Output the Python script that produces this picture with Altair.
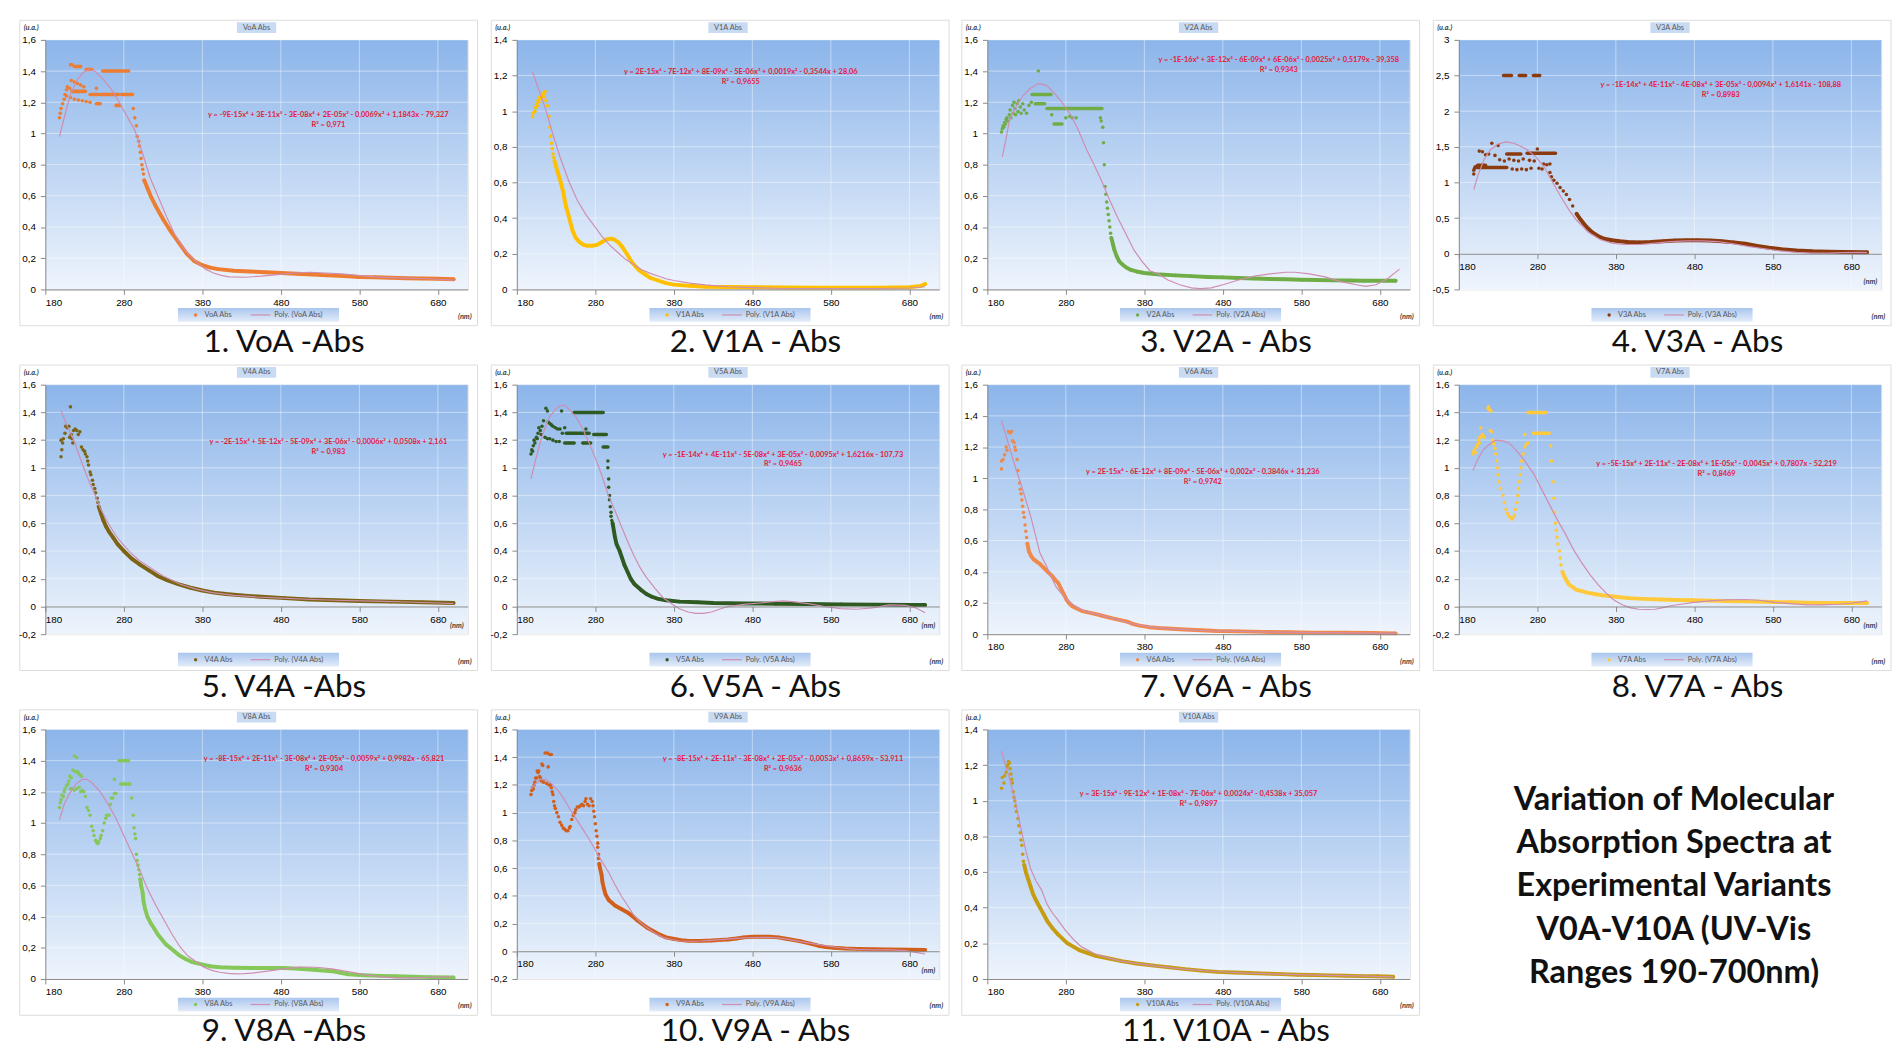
import altair as alt
import pandas as pd

X_TICKS = [180, 280, 380, 480, 580, 680]
X_DOMAIN = [180, 718]
Y_TICKS_16 = [0, 0.2, 0.4, 0.6, 0.8, 1, 1.2, 1.4, 1.6]
Y_TICKS_14 = [0, 0.2, 0.4, 0.6, 0.8, 1, 1.2, 1.4]
Y_TICKS_16N = [-0.2, 0, 0.2, 0.4, 0.6, 0.8, 1, 1.2, 1.4, 1.6]
Y_TICKS_3 = [-0.5, 0, 0.5, 1, 1.5, 2, 2.5, 3]

# ---------------- V0A ----------------
V0A_DOTS = [(198, 1.10), (199, 1.13), (200, 1.16), (202, 1.19), (204, 1.22), (205, 1.25), (207, 1.28), (208, 1.30),
            (211, 1.29), (213, 1.34), (217, 1.33), (221, 1.32), (225, 1.31), (229, 1.30), (245, 1.29),
            (207, 1.24), (212, 1.23), (217, 1.22), (222, 1.215), (227, 1.21), (232, 1.205), (237, 1.20),
            (292, 1.16), (294, 1.10), (296, 1.05), (297, 0.98), (299, 0.95), (300, 0.92), (301, 0.88),
            (302, 0.84), (303, 0.80), (304, 0.77), (305, 0.74)]
V0A_DASH = [(212, 214, 1.44), (217, 225, 1.43), (232, 239, 1.41), (253, 286, 1.40), (214, 231, 1.27),
            (237, 247, 1.25), (250, 273, 1.25), (277, 291, 1.25), (245, 250, 1.19), (270, 275, 1.18)]
V0A_CURVE = [(306, 0.70), (310, 0.65), (315, 0.59), (320, 0.54), (330, 0.45), (340, 0.37), (350, 0.30),
             (360, 0.23), (370, 0.18), (380, 0.155), (390, 0.14), (400, 0.13), (420, 0.12), (440, 0.115),
             (460, 0.11), (480, 0.105), (500, 0.10), (520, 0.095), (540, 0.09), (560, 0.085), (580, 0.08),
             (600, 0.078), (620, 0.075), (640, 0.072), (660, 0.07), (680, 0.068), (700, 0.065)]
V0A_FIT = [(198, 0.98), (205, 1.12), (212, 1.25), (220, 1.34), (228, 1.39), (235, 1.41), (243, 1.40),
           (253, 1.35), (263, 1.29), (273, 1.21), (283, 1.12), (294, 1.02), (304, 0.87), (314, 0.71),
           (325, 0.58), (335, 0.46), (345, 0.35), (355, 0.27), (365, 0.21), (374, 0.17), (384, 0.13),
           (394, 0.105), (404, 0.09), (414, 0.08), (435, 0.078), (455, 0.085), (476, 0.095), (497, 0.105),
           (517, 0.11), (538, 0.105), (558, 0.10), (578, 0.09), (600, 0.08), (620, 0.075), (640, 0.072),
           (660, 0.07), (680, 0.065), (700, 0.06)]

# ---------------- V1A ----------------
V1A_DOTS = [(200, 0.97), (201, 0.99), (203, 1.00), (204, 1.02), (205, 1.04), (206, 1.03), (207, 1.06),
            (208, 1.05), (209, 1.08), (210, 1.07), (212, 1.09), (213, 1.10), (214, 1.08), (215, 1.10),
            (216, 1.11), (217, 1.06), (219, 1.03), (221, 0.97), (222, 0.91), (223, 0.86), (224, 0.82),
            (225, 0.79), (226, 0.76), (227, 0.74)]
V1A_DASH = []
V1A_CURVE = [(228, 0.72), (230, 0.69), (232, 0.66), (234, 0.63), (236, 0.60), (239, 0.55), (241, 0.50),
             (243, 0.46), (245, 0.43), (248, 0.38), (251, 0.33), (255, 0.29), (260, 0.265), (265, 0.25),
             (270, 0.245), (276, 0.245), (282, 0.25), (288, 0.265), (294, 0.28), (300, 0.285), (304, 0.28),
             (309, 0.265), (314, 0.24), (320, 0.20), (327, 0.15), (335, 0.11), (343, 0.085), (350, 0.065),
             (360, 0.05), (370, 0.035), (380, 0.027), (400, 0.02), (420, 0.015), (450, 0.013), (480, 0.012),
             (520, 0.011), (560, 0.01), (600, 0.01), (640, 0.01), (680, 0.012), (695, 0.02), (700, 0.03)]
V1A_FIT = [(200, 1.22), (208, 1.12), (216, 1.02), (226, 0.87), (236, 0.73), (246, 0.61), (257, 0.50),
           (268, 0.42), (278, 0.36), (288, 0.30), (298, 0.25), (308, 0.21), (318, 0.17), (329, 0.14),
           (339, 0.11), (350, 0.09), (360, 0.075), (370, 0.06), (380, 0.05), (400, 0.035), (420, 0.025),
           (450, 0.015), (480, 0.01), (520, 0.005), (560, 0.005), (600, 0.005), (640, 0.005), (680, 0.008),
           (700, 0.015)]

# ---------------- V2A ----------------
V2A_DOTS = [(198, 1.01), (199, 1.03), (200, 1.05), (201, 1.04), (202, 1.07), (203, 1.06), (204, 1.09),
            (205, 1.10), (206, 1.08), (208, 1.12), (209, 1.15), (210, 1.10), (212, 1.18), (213, 1.13),
            (214, 1.20), (215, 1.16), (216, 1.12), (218, 1.19), (219, 1.14), (220, 1.21), (222, 1.17),
            (223, 1.13), (225, 1.19), (227, 1.15), (230, 1.13), (233, 1.18), (236, 1.20), (245, 1.40),
            (262, 1.12), (280, 1.10), (285, 1.11), (288, 1.10), (293, 1.10),
            (324, 1.10), (325, 1.08), (327, 1.04), (328, 0.94), (329, 0.80), (330, 0.66), (331, 0.61),
            (332, 0.56), (333, 0.52), (334, 0.48), (335, 0.44), (336, 0.40), (337, 0.36)]
V2A_DASH = [(237, 261, 1.25), (241, 253, 1.19), (256, 300, 1.16), (302, 326, 1.16), (265, 275, 1.06)]
V2A_CURVE = [(338, 0.33), (340, 0.29), (342, 0.25), (345, 0.21), (348, 0.18), (352, 0.16), (357, 0.14),
             (363, 0.125), (370, 0.115), (380, 0.105), (390, 0.10), (400, 0.095), (420, 0.09), (440, 0.085),
             (460, 0.08), (480, 0.077), (500, 0.073), (520, 0.07), (540, 0.067), (560, 0.065), (580, 0.062),
             (600, 0.06), (620, 0.058), (640, 0.057), (660, 0.056), (680, 0.055), (700, 0.055)]
V2A_FIT = [(199, 0.85), (204, 0.97), (208, 1.08), (216, 1.17), (225, 1.24), (235, 1.29), (245, 1.32),
           (255, 1.31), (265, 1.26), (275, 1.20), (286, 1.12), (296, 1.02), (306, 0.90), (316, 0.80),
           (326, 0.69), (336, 0.57), (347, 0.45), (357, 0.35), (367, 0.25), (377, 0.18), (387, 0.12),
           (397, 0.10), (410, 0.06), (425, 0.03), (440, 0.01), (451, 0.005), (465, 0.01), (480, 0.03),
           (500, 0.06), (520, 0.085), (540, 0.10), (560, 0.11), (572, 0.11), (590, 0.10), (610, 0.08),
           (630, 0.05), (650, 0.03), (662, 0.02), (675, 0.03), (690, 0.07), (705, 0.13)]

# ---------------- V3A ----------------
V3A_DOTS = [(199, 1.12), (199, 1.17), (200, 1.20), (201, 1.22), (206, 1.44), (210, 1.43), (214, 1.39),
            (218, 1.40), (222, 1.55), (226, 1.38), (230, 1.52), (232, 1.32), (238, 1.30), (244, 1.33),
            (250, 1.31), (256, 1.30), (262, 1.33), (270, 1.31), (276, 1.30), (280, 1.47),
            (248, 1.19), (254, 1.18), (260, 1.19), (266, 1.18), (272, 1.20), (282, 1.20), (286, 1.19),
            (288, 1.26), (292, 1.25), (296, 1.26),
            (296, 1.14), (298, 1.08), (301, 1.03), (305, 0.99), (309, 0.93), (313, 0.88), (317, 0.83),
            (321, 0.76), (325, 0.67)]
V3A_DASH = [(203, 241, 1.21), (204, 214, 1.24), (237, 247, 2.5), (257, 265, 2.5), (275, 283, 2.5),
            (241, 259, 1.40), (267, 303, 1.41)]
V3A_CURVE = [(330, 0.56), (335, 0.48), (340, 0.41), (345, 0.35), (350, 0.30), (357, 0.25), (365, 0.21),
             (375, 0.19), (385, 0.175), (395, 0.165), (410, 0.16), (425, 0.165), (440, 0.175), (455, 0.185),
             (470, 0.19), (485, 0.19), (500, 0.185), (515, 0.175), (530, 0.16), (545, 0.14), (560, 0.11),
             (575, 0.085), (590, 0.065), (610, 0.045), (630, 0.035), (650, 0.03), (670, 0.025), (700, 0.02)]
V3A_FIT = [(199, 0.90), (205, 1.12), (212, 1.32), (220, 1.46), (230, 1.54), (240, 1.57), (250, 1.55),
           (260, 1.50), (267, 1.46), (278, 1.36), (288, 1.23), (298, 1.03), (310, 0.80), (320, 0.62),
           (330, 0.47), (345, 0.30), (360, 0.20), (375, 0.15), (390, 0.13), (410, 0.13), (430, 0.15),
           (450, 0.17), (470, 0.18), (490, 0.18), (510, 0.17), (530, 0.14), (550, 0.10), (570, 0.07),
           (590, 0.04), (610, 0.02), (630, 0.01), (650, 0.01), (670, 0.015), (690, 0.02), (700, 0.015)]

# ---------------- V4A ----------------
V4A_DOTS = [(200, 1.20), (200, 1.08), (201, 1.13), (202, 1.18), (203, 1.21), (205, 1.25), (206, 1.30),
            (208, 1.29), (210, 1.30), (212, 1.44), (211, 1.22), (213, 1.24), (214, 1.21), (215, 1.18),
            (216, 1.27), (218, 1.28), (220, 1.27), (222, 1.24), (224, 1.26), (226, 1.15), (228, 1.13),
            (230, 1.12), (231, 1.10), (233, 1.08), (234, 1.05), (235, 1.02), (237, 0.97), (238, 0.95),
            (240, 0.91), (241, 0.88), (243, 0.85), (244, 0.82), (246, 0.78), (247, 0.75)]
V4A_DASH = []
V4A_CURVE = [(248, 0.72), (251, 0.67), (254, 0.62), (257, 0.58), (261, 0.54), (266, 0.50), (272, 0.45),
             (280, 0.40), (290, 0.345), (301, 0.30), (312, 0.26), (323, 0.22), (335, 0.19), (350, 0.16),
             (365, 0.135), (380, 0.115), (395, 0.10), (410, 0.09), (430, 0.08), (455, 0.07), (485, 0.06),
             (516, 0.05), (550, 0.045), (580, 0.04), (620, 0.035), (660, 0.03), (700, 0.025)]
V4A_FIT = [(200, 1.41), (208, 1.30), (217, 1.19), (225, 1.06), (233, 0.94), (242, 0.82), (250, 0.71),
           (260, 0.60), (270, 0.51), (280, 0.44), (290, 0.38), (300, 0.33), (311, 0.29), (330, 0.22),
           (352, 0.16), (372, 0.125), (393, 0.10), (420, 0.08), (450, 0.068), (480, 0.06), (520, 0.05),
           (560, 0.043), (600, 0.038), (640, 0.032), (680, 0.025), (700, 0.02)]

# ---------------- V5A ----------------
V5A_DOTS = [(198, 1.10), (199, 1.13), (200, 1.12), (201, 1.16), (202, 1.20), (203, 1.18), (205, 1.22),
            (206, 1.21), (207, 1.25), (208, 1.29), (210, 1.27), (211, 1.24), (212, 1.30), (214, 1.34),
            (217, 1.43), (219, 1.41), (220, 1.33), (222, 1.32), (224, 1.31), (226, 1.30), (229, 1.29),
            (232, 1.28), (235, 1.28), (237, 1.41), (216, 1.22), (219, 1.21), (222, 1.21), (226, 1.20),
            (230, 1.19), (234, 1.19), (238, 1.25), (241, 1.29), (268, 1.28),
            (296, 1.05), (296, 1.00), (297, 0.92), (297, 0.86), (298, 0.80), (298, 0.77), (299, 0.72),
            (300, 0.68), (300, 0.65), (301, 0.62)]
V5A_DASH = [(253, 290, 1.40), (243, 272, 1.25), (278, 294, 1.24), (241, 253, 1.18), (264, 274, 1.18),
            (290, 296, 1.15)]
V5A_CURVE = [(302, 0.60), (305, 0.50), (307, 0.45), (311, 0.40), (314, 0.35), (317, 0.30), (321, 0.25),
             (325, 0.20), (330, 0.16), (338, 0.12), (345, 0.09), (352, 0.07), (360, 0.055), (370, 0.045),
             (387, 0.035), (410, 0.03), (430, 0.025), (470, 0.022), (510, 0.02), (550, 0.018), (593, 0.015),
             (640, 0.013), (680, 0.011), (700, 0.01)]
V5A_FIT = [(198, 0.92), (204, 1.06), (210, 1.19), (216, 1.29), (222, 1.37), (229, 1.42), (235, 1.45),
           (241, 1.45), (247, 1.42), (256, 1.36), (264, 1.28), (272, 1.18), (280, 1.07), (288, 0.95),
           (296, 0.81), (305, 0.69), (313, 0.58), (321, 0.47), (329, 0.37), (337, 0.28), (345, 0.21),
           (356, 0.13), (366, 0.065), (377, 0.02), (387, -0.016), (398, -0.04), (408, -0.05), (418, -0.05),
           (428, -0.04), (438, -0.02), (449, 0.0), (469, 0.015), (489, 0.025), (510, 0.037), (520, 0.04),
           (531, 0.035), (551, 0.02), (572, 0.0), (592, -0.015), (613, -0.02), (633, -0.01), (654, 0.012),
           (675, 0.008), (688, -0.01), (700, -0.045)]

# ---------------- V6A ----------------
V6A_DOTS = [(198, 1.11), (198, 1.06), (200, 1.12), (202, 1.15), (204, 1.20), (205, 1.18), (207, 1.30),
            (209, 1.29), (211, 1.30), (212, 1.24), (214, 1.23), (215, 1.20), (216, 1.18), (218, 1.12),
            (219, 1.05), (221, 0.97), (222, 0.93), (223, 0.90), (224, 0.86), (225, 0.82), (226, 0.78),
            (227, 0.75), (228, 0.70), (229, 0.66), (230, 0.62)]
V6A_DASH = []
V6A_CURVE = [(231, 0.58), (233, 0.53), (236, 0.50), (239, 0.48), (243, 0.465), (247, 0.45), (251, 0.43),
             (255, 0.41), (259, 0.39), (263, 0.37), (267, 0.345), (270, 0.33), (274, 0.29), (278, 0.25),
             (281, 0.22), (284, 0.20), (288, 0.18), (292, 0.17), (300, 0.15), (308, 0.14), (317, 0.13),
             (325, 0.12), (333, 0.11), (345, 0.095), (358, 0.08), (366, 0.065), (374, 0.055), (386, 0.045),
             (398, 0.04), (415, 0.035), (431, 0.03), (452, 0.025), (472, 0.02), (500, 0.018), (533, 0.015),
             (565, 0.013), (594, 0.01), (635, 0.01), (670, 0.008), (700, 0.005)]
V6A_FIT = [(198, 1.37), (204, 1.27), (211, 1.15), (217, 1.05), (223, 0.96), (229, 0.86), (235, 0.76),
           (241, 0.64), (247, 0.52), (255, 0.44), (262, 0.36), (268, 0.30), (276, 0.25), (284, 0.21),
           (292, 0.18), (300, 0.155), (310, 0.14), (325, 0.12), (345, 0.095), (366, 0.065), (390, 0.045),
           (420, 0.033), (460, 0.022), (500, 0.017), (550, 0.013), (600, 0.01), (650, 0.008), (700, 0.005)]

# ---------------- V7A ----------------
V7A_DOTS = [(198, 1.10), (199, 1.12), (200, 1.13), (201, 1.11), (202, 1.15), (203, 1.15), (204, 1.17),
            (205, 1.20), (206, 1.18), (207, 1.22), (208, 1.29), (209, 1.23), (210, 1.24), (211, 1.23),
            (212, 1.22), (217, 1.43), (218, 1.44), (219, 1.42), (221, 1.41), (220, 1.27), (222, 1.26),
            (223, 1.20), (224, 1.18), (225, 1.17), (226, 1.14), (227, 1.10), (228, 1.05), (229, 1.00),
            (230, 0.95), (231, 0.90), (233, 0.85), (236, 0.80), (238, 0.75), (240, 0.70), (242, 0.67),
            (244, 0.65), (246, 0.64), (248, 0.63), (249, 0.64), (251, 0.66), (252, 0.70), (254, 0.75),
            (255, 0.80), (256, 0.85), (257, 0.90), (258, 0.95), (259, 1.00), (260, 1.05), (262, 1.10),
            (264, 1.15), (266, 1.17), (268, 1.18), (264, 1.24),
            (297, 1.16), (298, 1.05), (300, 0.90), (301, 0.78), (302, 0.68), (303, 0.60), (304, 0.55),
            (305, 0.50), (306, 0.45), (308, 0.40), (309, 0.35), (310, 0.30)]
V7A_DASH = [(268, 291, 1.40), (275, 295, 1.25)]
V7A_CURVE = [(312, 0.25), (314, 0.22), (317, 0.19), (320, 0.16), (325, 0.14), (330, 0.12), (337, 0.11),
             (343, 0.10), (353, 0.09), (363, 0.08), (380, 0.07), (396, 0.06), (415, 0.055), (437, 0.05),
             (458, 0.047), (478, 0.045), (500, 0.042), (519, 0.04), (540, 0.037), (561, 0.035), (580, 0.032),
             (602, 0.03), (622, 0.027), (643, 0.025), (670, 0.025), (700, 0.025)]
V7A_FIT = [(198, 0.98), (204, 1.06), (211, 1.13), (219, 1.17), (227, 1.20), (236, 1.195), (244, 1.18),
           (254, 1.12), (264, 1.05), (275, 0.96), (285, 0.85), (295, 0.74), (305, 0.63), (316, 0.52),
           (326, 0.41), (336, 0.32), (347, 0.23), (357, 0.16), (368, 0.094), (378, 0.045), (388, 0.012),
           (399, -0.01), (409, -0.02), (420, -0.022), (430, -0.02), (440, -0.008), (450, 0.005),
           (465, 0.018), (479, 0.03), (500, 0.04), (520, 0.047), (545, 0.05), (563, 0.045), (582, 0.03),
           (602, 0.02), (623, 0.012), (643, 0.012), (664, 0.016), (682, 0.025), (700, 0.04)]

# ---------------- V8A ----------------
V8A_DOTS = [(198, 1.10), (199, 1.13), (200, 1.15), (201, 1.18), (203, 1.17), (204, 1.20), (205, 1.22),
            (207, 1.24), (209, 1.25), (210, 1.27), (211, 1.30), (213, 1.29), (215, 1.34), (217, 1.43),
            (218, 1.33), (220, 1.42), (221, 1.33), (222, 1.32), (224, 1.31), (226, 1.30), (212, 1.22),
            (214, 1.22), (217, 1.21), (220, 1.22), (223, 1.23), (225, 1.20), (227, 1.21), (229, 1.20),
            (231, 1.17), (233, 1.10), (235, 1.08), (237, 1.05), (239, 0.98), (241, 0.95), (242, 0.92),
            (244, 0.89), (245, 0.88), (246, 0.87), (247, 0.87), (248, 0.88), (250, 0.90), (251, 0.92),
            (253, 0.95), (255, 1.00), (257, 1.03), (258, 1.05), (261, 1.05), (263, 1.12), (264, 1.16),
            (266, 1.16), (268, 1.19), (270, 1.19), (268, 1.28),
            (290, 1.16), (292, 1.05), (293, 0.97), (294, 0.93), (295, 0.90), (296, 0.80), (297, 0.76),
            (298, 0.73), (299, 0.70), (300, 0.67)]
V8A_DASH = [(274, 286, 1.40), (276, 288, 1.25)]
V8A_CURVE = [(301, 0.64), (302, 0.60), (304, 0.55), (305, 0.50), (307, 0.45), (310, 0.40), (314, 0.36),
             (319, 0.32), (324, 0.28), (329, 0.25), (334, 0.22), (339, 0.20), (345, 0.175), (351, 0.15),
             (358, 0.13), (366, 0.11), (374, 0.10), (382, 0.09), (392, 0.08), (402, 0.075), (420, 0.072),
             (443, 0.07), (465, 0.07), (484, 0.07), (504, 0.065), (525, 0.058), (545, 0.05), (556, 0.04),
             (566, 0.03), (586, 0.024), (606, 0.02), (627, 0.017), (647, 0.015), (670, 0.012), (700, 0.01)]
V8A_FIT = [(198, 1.02), (204, 1.12), (211, 1.19), (219, 1.25), (227, 1.28), (233, 1.28), (239, 1.26),
           (250, 1.20), (260, 1.12), (270, 1.03), (280, 0.92), (290, 0.81), (300, 0.70), (310, 0.58),
           (321, 0.47), (331, 0.38), (341, 0.29), (351, 0.21), (361, 0.15), (372, 0.11), (382, 0.076),
           (392, 0.055), (402, 0.043), (413, 0.036), (423, 0.033), (433, 0.034), (443, 0.037), (463, 0.05),
           (484, 0.065), (504, 0.076), (525, 0.075), (545, 0.065), (566, 0.047), (586, 0.028), (606, 0.015),
           (627, 0.007), (648, 0.007), (668, 0.011), (696, 0.015)]

# ---------------- V9A ----------------
V9A_DOTS = [(198, 1.13), (199, 1.16), (200, 1.18), (201, 1.17), (202, 1.20), (203, 1.22), (204, 1.25),
            (205, 1.25), (206, 1.30), (207, 1.29), (208, 1.30), (209, 1.26), (210, 1.25), (211, 1.23),
            (212, 1.35), (213, 1.34), (214, 1.22), (216, 1.43), (218, 1.21), (219, 1.43), (220, 1.33),
            (222, 1.42), (224, 1.42), (221, 1.20), (223, 1.20), (224, 1.18), (225, 1.15), (226, 1.13),
            (227, 1.08), (228, 1.05), (229, 1.03), (231, 1.00), (233, 0.97), (235, 0.93), (237, 0.91),
            (239, 0.89), (241, 0.88), (243, 0.87), (245, 0.87), (247, 0.89), (248, 0.90), (250, 0.95),
            (252, 0.98), (254, 1.00), (255, 1.02), (257, 1.04), (259, 1.04), (261, 1.05), (263, 1.06),
            (265, 1.05), (267, 1.08), (268, 1.10), (270, 1.06), (272, 1.05), (274, 1.10), (276, 1.08),
            (277, 1.05), (278, 1.01), (279, 0.97), (280, 0.92), (281, 0.87), (282, 0.83), (283, 0.78),
            (283, 0.75), (284, 0.70), (284, 0.67)]
V9A_DASH = []
V9A_CURVE = [(285, 0.63), (286, 0.60), (288, 0.55), (289, 0.50), (291, 0.45), (293, 0.41), (297, 0.37),
             (301, 0.35), (305, 0.33), (313, 0.305), (321, 0.28), (328, 0.25), (334, 0.22), (340, 0.195),
             (346, 0.17), (354, 0.145), (362, 0.12), (370, 0.10), (379, 0.09), (389, 0.08), (399, 0.075),
             (414, 0.075), (428, 0.077), (440, 0.082), (449, 0.085), (460, 0.092), (469, 0.10), (480, 0.104),
             (490, 0.105), (502, 0.105), (513, 0.10), (523, 0.09), (533, 0.08), (543, 0.07), (554, 0.055),
             (564, 0.04), (574, 0.03), (584, 0.025), (598, 0.02), (613, 0.017), (633, 0.014), (654, 0.012),
             (680, 0.011), (700, 0.01)]
V9A_FIT = [(198, 1.17), (204, 1.21), (210, 1.24), (216, 1.24), (222, 1.22), (229, 1.18), (235, 1.14),
           (241, 1.09), (247, 1.03), (255, 0.96), (263, 0.89), (272, 0.81), (280, 0.73), (288, 0.65),
           (297, 0.57), (305, 0.48), (313, 0.40), (321, 0.33), (329, 0.26), (337, 0.21), (346, 0.17),
           (356, 0.13), (366, 0.10), (377, 0.085), (387, 0.074), (400, 0.072), (414, 0.074), (428, 0.079),
           (448, 0.088), (469, 0.097), (490, 0.10), (502, 0.10), (516, 0.095), (531, 0.08), (551, 0.06),
           (572, 0.04), (592, 0.025), (613, 0.014), (633, 0.01), (654, 0.01), (675, 0.005), (690, -0.01),
           (700, -0.02)]

# ---------------- V10A ----------------
V10A_DOTS = [(198, 1.07), (199, 1.13), (201, 1.10), (202, 1.14), (204, 1.16), (205, 1.19), (206, 1.20),
             (207, 1.22), (208, 1.21), (209, 1.18), (210, 1.15), (211, 1.12), (212, 1.10), (213, 1.05),
             (214, 1.02), (215, 1.00), (216, 0.97), (217, 0.94), (219, 0.90), (220, 0.86), (222, 0.82),
             (223, 0.78), (224, 0.75), (225, 0.70), (226, 0.66)]
V10A_DASH = []
V10A_CURVE = [(227, 0.64), (229, 0.60), (232, 0.56), (235, 0.52), (238, 0.48), (241, 0.45), (247, 0.40),
              (252, 0.36), (257, 0.32), (263, 0.285), (270, 0.25), (276, 0.225), (282, 0.20), (290, 0.18),
              (298, 0.16), (308, 0.145), (318, 0.13), (335, 0.115), (351, 0.10), (370, 0.087), (392, 0.075),
              (412, 0.065), (432, 0.055), (452, 0.047), (473, 0.04), (494, 0.036), (514, 0.033), (535, 0.03),
              (555, 0.027), (575, 0.024), (595, 0.022), (616, 0.02), (636, 0.018), (657, 0.016), (677, 0.015),
              (697, 0.012)]
V10A_FIT = [(198, 1.28), (203, 1.20), (208, 1.13), (212, 1.06), (216, 0.99), (222, 0.86), (229, 0.72),
            (235, 0.62), (242, 0.55), (249, 0.50), (256, 0.42), (263, 0.37), (270, 0.33), (280, 0.27),
            (290, 0.22), (300, 0.18), (320, 0.135), (350, 0.10), (390, 0.075), (430, 0.055), (470, 0.042),
            (510, 0.033), (550, 0.027), (600, 0.022), (650, 0.017), (697, 0.012)]

SERIES = ["VoA Abs", "V1A Abs", "V2A Abs", "V3A Abs", "V4A Abs", "V5A Abs", "V6A Abs", "V7A Abs",
          "V8A Abs", "V9A Abs", "V10A Abs"]
CAPTIONS = ["1. VoA -Abs", "2. V1A - Abs", "3. V2A - Abs", "4. V3A - Abs", "5. V4A -Abs", "6. V5A - Abs",
            "7. V6A - Abs", "8. V7A - Abs", "9. V8A -Abs", "10. V9A - Abs", "11. V10A - Abs"]
EQUATIONS = [
    "y = -9E-15x⁶ + 3E-11x⁵ - 3E-08x⁴ + 2E-05x³ - 0,0069x² + 1,1843x - 79,327",
    "y = 2E-15x⁶ - 7E-12x⁵ + 8E-09x⁴ - 5E-06x³ + 0,0019x² - 0,3544x + 28,06",
    "y = -1E-16x⁶ + 3E-12x⁵ - 6E-09x⁴ + 6E-06x³ - 0,0025x² + 0,5179x - 39,358",
    "y = -1E-14x⁶ + 4E-11x⁵ - 4E-08x⁴ + 3E-05x³ - 0,0094x² + 1,6141x - 108,88",
    "y = -2E-15x⁶ + 5E-12x⁵ - 5E-09x⁴ + 3E-06x³ - 0,0006x² + 0,0508x + 2,161",
    "y = -1E-14x⁶ + 4E-11x⁵ - 5E-08x⁴ + 3E-05x³ - 0,0095x² + 1,6216x - 107,73",
    "y = 2E-15x⁶ - 6E-12x⁵ + 8E-09x⁴ - 5E-06x³ + 0,002x² - 0,3846x + 31,236",
    "y = -5E-15x⁶ + 2E-11x⁵ - 2E-08x⁴ + 1E-05x³ - 0,0045x² + 0,7807x - 52,219",
    "y = -8E-15x⁶ + 2E-11x⁵ - 3E-08x⁴ + 2E-05x³ - 0,0059x² + 0,9982x - 65,821",
    "y = -8E-15x⁶ + 2E-11x⁵ - 3E-08x⁴ + 2E-05x³ - 0,0053x² + 0,8659x - 53,911",
    "y = 3E-15x⁶ - 9E-12x⁵ + 1E-08x⁴ - 7E-06x³ + 0,0024x² - 0,4538x + 35,057",
]
R2 = ["R² = 0,971", "R² = 0,9655", "R² = 0,9343", "R² = 0,8983", "R² = 0,983", "R² = 0,9465",
      "R² = 0,9742", "R² = 0,8469", "R² = 0,9304", "R² = 0,9636", "R² = 0,9897"]
TITLE_LINES = ["Variation of Molecular", "Absorption Spectra at", "Experimental Variants",
               "V0A-V10A (UV-Vis", "Ranges 190-700nm)"]

# ---------------- styles ----------------
COLORS = ["#ed7d31", "#ffc000", "#70ad47", "#8b3a0e", "#7c6414", "#2f5a22", "#f08a4b", "#ffc93c",
          "#86c75a", "#d25f1a", "#c69c12"]
Y_DOMAINS = [(0, 1.6), (0, 1.4), (0, 1.6), (-0.5, 3), (-0.2, 1.6), (-0.2, 1.6), (0, 1.6), (-0.2, 1.6),
             (0, 1.6), (-0.2, 1.6), (0, 1.4)]
Y_TICKS = [Y_TICKS_16, Y_TICKS_14, Y_TICKS_16, Y_TICKS_3, Y_TICKS_16N, Y_TICKS_16N, Y_TICKS_16,
           Y_TICKS_16N, Y_TICKS_16, Y_TICKS_16N, Y_TICKS_14]
EQ_POS = [(0.67, 0.30), (0.53, 0.13), (0.69, 0.08), (0.62, 0.18), (0.67, 0.23), (0.63, 0.28), (0.51, 0.35),
          (0.61, 0.32), (0.66, 0.12), (0.63, 0.12), (0.50, 0.26)]
DOTS = [V0A_DOTS, V1A_DOTS, V2A_DOTS, V3A_DOTS, V4A_DOTS, V5A_DOTS, V6A_DOTS, V7A_DOTS, V8A_DOTS,
        V9A_DOTS, V10A_DOTS]
DASHES = [V0A_DASH, V1A_DASH, V2A_DASH, V3A_DASH, V4A_DASH, V5A_DASH, V6A_DASH, V7A_DASH, V8A_DASH,
          V9A_DASH, V10A_DASH]
CURVES = [V0A_CURVE, V1A_CURVE, V2A_CURVE, V3A_CURVE, V4A_CURVE, V5A_CURVE, V6A_CURVE, V7A_CURVE,
          V8A_CURVE, V9A_CURVE, V10A_CURVE]
FITS = [V0A_FIT, V1A_FIT, V2A_FIT, V3A_FIT, V4A_FIT, V5A_FIT, V6A_FIT, V7A_FIT, V8A_FIT, V9A_FIT,
        V10A_FIT]

PW, PH = 430, 254
FONT = "Lato"
FIT_COLOR = "#cf8db0"
EQ_COLOR = "#e3203a"
BG_GRAD = {"gradient": "linear", "x1": 0, "y1": 0, "x2": 0, "y2": 1,
           "stops": [{"offset": 0, "color": "#8cb5ea"}, {"offset": 1, "color": "#eef4fc"}]}
LEG_GRAD = {"gradient": "linear", "x1": 0, "y1": 0, "x2": 0, "y2": 1,
            "stops": [{"offset": 0, "color": "#aac6ee"}, {"offset": 1, "color": "#e3ecf9"}]}
LABEL_EXPR = "replace(replace(format(datum.value, '.1~f'), '.', ','), '\u2212', '-')"


def one():
    return pd.DataFrame({"k": [0]})


def panel(i):
    W, H = PW, PH
    col = COLORS[i]
    ymin, ymax = Y_DOMAINS[i]
    off = -H * (0 - ymin) / (ymax - ymin) if ymin < 0 else 0
    xs = alt.Scale(domain=X_DOMAIN, nice=False, zero=False)
    ys = alt.Scale(domain=[ymin, ymax], nice=False, zero=False)
    xax = alt.Axis(values=X_TICKS, title=None, offset=off, labelPadding=3, grid=False, zindex=1)
    yax = alt.Axis(values=Y_TICKS[i], title=None, labelExpr=LABEL_EXPR, labelPadding=5, grid=False, zindex=1)

    def X(f="nm"):
        return alt.X(f"{f}:Q", scale=xs, axis=xax)

    def Y(f="abs"):
        return alt.Y(f"{f}:Q", scale=ys, axis=yax)

    layers = []
    layers.append(alt.Chart(one()).mark_rect(fill=BG_GRAD).encode(
        x=alt.value(0), x2=alt.value(W), y=alt.value(0), y2=alt.value(H)))
    # chart frame
    layers.append(alt.Chart(one()).mark_rect(fill=None, stroke="#dcdcdc", strokeWidth=1).encode(
        x=alt.value(-26), x2=alt.value(W + 10), y=alt.value(-20), y2=alt.value(H + 37)))
    # gridlines at the tick values
    layers.append(alt.Chart(pd.DataFrame({"nm": X_TICKS})).mark_rule(
        color="#ffffff", opacity=0.45, strokeWidth=1).encode(x=X()))
    layers.append(alt.Chart(pd.DataFrame({"abs": Y_TICKS[i]})).mark_rule(
        color="#ffffff", opacity=0.45, strokeWidth=1).encode(y=Y()))

    curve = pd.DataFrame(CURVES[i], columns=["nm", "abs"])
    pts = pd.DataFrame(DOTS[i] + CURVES[i], columns=["nm", "abs"])
    fit = pd.DataFrame(FITS[i], columns=["nm", "abs"])

    layers.append(alt.Chart(curve).mark_line(color=col, strokeWidth=4, strokeCap="round",
                                             strokeJoin="round").encode(x=X(), y=Y()))
    layers.append(alt.Chart(pts).mark_circle(color=col, size=13, opacity=1).encode(x=X(), y=Y()))
    if DASHES[i]:
        dash = pd.DataFrame(DASHES[i], columns=["nm", "nm2", "abs"])
        layers.append(alt.Chart(dash).mark_rule(color=col, strokeWidth=3.6, strokeCap="round").encode(
            x=X(), x2="nm2:Q", y=Y()))
    layers.append(alt.Chart(fit).mark_line(color=FIT_COLOR, strokeWidth=1.2).encode(x=X(), y=Y()))

    fx, fy = EQ_POS[i]
    layers.append(alt.Chart(one()).mark_text(font=FONT, fontWeight="bold", fontSize=7.5, color=EQ_COLOR,
                                             align="center", baseline="middle", lineHeight=10).encode(
        x=alt.value(fx * W), y=alt.value(fy * H), text=alt.value([EQUATIONS[i], R2[i]])))

    # top labels
    layers.append(alt.Chart(one()).mark_rect(fill="#c9dbf2").encode(
        x=alt.value(W / 2 - 20), x2=alt.value(W / 2 + 20), y=alt.value(-18), y2=alt.value(-7)))
    layers.append(alt.Chart(one()).mark_text(font=FONT, fontSize=7.5, color="#595959", baseline="middle").encode(
        x=alt.value(W / 2), y=alt.value(-12.5), text=alt.value(SERIES[i])))
    layers.append(alt.Chart(one()).mark_text(font=FONT, fontSize=7.5, fontWeight="bold", fontStyle="italic",
                                             color="#404040", align="left", baseline="middle").encode(
        x=alt.value(-22), y=alt.value(-12), text=alt.value("(u.a.)")))

    # legend
    cx = W / 2
    ly = H + 26
    layers.append(alt.Chart(one()).mark_rect(fill=LEG_GRAD).encode(
        x=alt.value(cx - 80), x2=alt.value(cx + 84), y=alt.value(ly - 7), y2=alt.value(ly + 7)))
    layers.append(alt.Chart(one()).mark_circle(color=col, size=12, opacity=1).encode(
        x=alt.value(cx - 62), y=alt.value(ly)))
    layers.append(alt.Chart(one()).mark_text(font=FONT, fontSize=7.5, color="#595959", align="left",
                                             baseline="middle").encode(
        x=alt.value(cx - 53), y=alt.value(ly), text=alt.value(SERIES[i])))
    layers.append(alt.Chart(one()).mark_rule(color=FIT_COLOR, strokeWidth=1.2).encode(
        x=alt.value(cx - 6), x2=alt.value(cx + 14), y=alt.value(ly)))
    layers.append(alt.Chart(one()).mark_text(font=FONT, fontSize=7.5, color="#595959", align="left",
                                             baseline="middle").encode(
        x=alt.value(cx + 18), y=alt.value(ly), text=alt.value("Poly. (" + SERIES[i] + ")")))
    layers.append(alt.Chart(one()).mark_text(font=FONT, fontSize=7.5, fontWeight="bold", fontStyle="italic",
                                             color="#404040", align="right", baseline="middle").encode(
        x=alt.value(W + 4), y=alt.value(ly + 2), text=alt.value("(nm)")))
    if ymin < 0:
        layers.append(alt.Chart(one()).mark_text(font=FONT, fontSize=7.5, fontWeight="bold", fontStyle="italic",
                                                 color="#404040", align="right", baseline="middle").encode(
            x=alt.value(W - 4), y=alt.value(H - 8), text=alt.value("(nm)")))

    return alt.layer(*layers).properties(
        width=W, height=H,
        title=alt.Title(CAPTIONS[i], orient="bottom", font=FONT, fontSize=32, fontWeight="normal",
                        color="#111111", offset=1, dx=28))


charts = [panel(i) for i in range(11)]
title_chart = alt.Chart(one()).mark_text(font=FONT, fontWeight="bold", fontSize=33, lineHeight=44,
                                         color="#111111", align="center", baseline="middle").encode(
    x=alt.value(PW / 2 + 4), y=alt.value(72), text=alt.value(TITLE_LINES)).properties(
    width=PW, height=PH, view=alt.ViewBackground(strokeWidth=0, strokeOpacity=0))
charts.append(title_chart)

chart = alt.concat(*charts, columns=4, spacing={"row": 6, "column": 11},
                   padding={"left": 10, "top": 2, "right": 2, "bottom": 2}).configure_view(
    stroke=None, strokeWidth=0).configure_axis(
    labelFont=FONT, labelFontStyle="italic", labelFontSize=9, labelColor="#595959",
    ticks=False, domainColor="#cfcfcf").configure_axisY(
    domain=False).configure(background="white")

chart.save("out.html", embed_options={"renderer": "svg", "actions": False})
